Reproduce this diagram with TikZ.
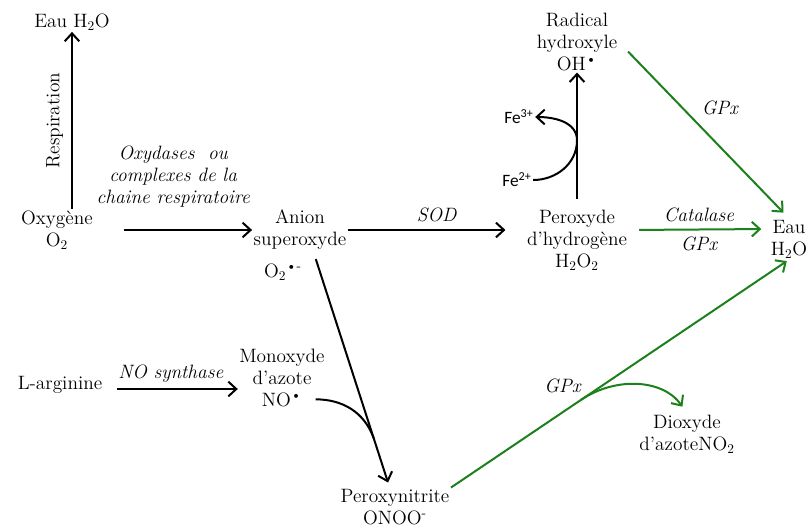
\documentclass[tikz,border=0pt]{standalone}
\usepackage{fontspec}
\newfontfamily\fesans{Carlito}
\usepackage{tikz}
\usetikzlibrary{arrows.meta,calc}
\definecolor{gpxgreen}{RGB}{28,128,28}

\tikzset{
  mol/.style={align=center,inner sep=1pt,font=\fontsize{14.5}{16.5}\selectfont},
  enz/.style={align=center,inner sep=2pt,font=\fontsize{14.5}{16.5}\selectfont\itshape},
  fe/.style={inner sep=1pt,font=\fesans\fontsize{13}{14}\selectfont},
  reac/.style={-{Straight Barb[length=6pt,width=11pt,line width=1.5pt]},line width=1.5pt},
  gpx/.style={reac,draw=gpxgreen},
}
\newcommand{\rad}{\textsuperscript{•}}

\begin{document}
\begin{tikzpicture}[x=0.75pt,y=-0.75pt]
\useasboundingbox (0,0) rectangle (809,528);

% Molecules
\node[mol] (eau1) at (72,22) {Eau H$_2$O};
\node[mol] (oxy) at (57,230) {Oxygène\\O$_2$};
\node[mol] (anion) at (300,230) {Anion\\superoxyde};
\node[mol] (o2rad) at (283,272) {O$_2$\textsuperscript{•-}};
\node[mol] (h2o2) at (577,240) {Peroxyde\\d’hydrogène\\H$_2$O$_2$};
\node[mol] (ohrad) at (577,42) {Radical\\hydroxyle\\OH\rad};
\node[mol] (eau2) at (789,239) {Eau\\H$_2$O};
\node[mol] (larg) at (60,385) {L-arginine};
\node[mol] (nomono) at (282,378) {Monoxyde\\d’azote\\NO\rad};
\node[mol] (onoo) at (395,507) {Peroxynitrite\\ONOO\textsuperscript{-}};
\node[mol] (no2) at (687,434) {Dioxyde\\d’azoteNO$_2$};

% Fenton
\node[fe] (fe3) at (519,117) {Fe\textsuperscript{3+}};
\node[fe] (fe2) at (517,180) {Fe\textsuperscript{2+}};

% Black reactions
\draw[reac] (eau1.south |- oxy.north) -- (eau1.south)
  node[midway,above=5pt,sloped,mol] {Respiration};
\draw[reac,shorten <=22pt] (oxy) -- (anion)
  node[midway,above=14pt,enz] {Oxydases\ \ ou\\complexes de la\\chaine respiratoire};
\draw[reac,shorten >=15pt] (anion.east) -- (anion.east -| h2o2.west)
  node[midway,above=3pt,enz] {SOD};
\draw[reac,shorten <=7pt] (h2o2.north) -- (ohrad.south);
\coordinate (fetouch) at ($(h2o2.north)!0.5!(ohrad.south)$);
\draw[reac] (fe2.east) to[out=0,in=-90] (fetouch) to[out=90,in=0] (fe3.east);
\draw[reac,shorten <=6pt,shorten >=4pt] ([xshift=10pt]anion.south) -- ([xshift=-4pt]onoo.north)
  coordinate[pos=0.79] (nojoin);
\draw[reac,shorten <=10pt] (larg.east |- 0,389) -- (nomono.west |- 0,389)
  node[midway,above=2pt,enz] {NO synthase};
\draw[line width=1.5pt] ([yshift=-16pt,xshift=-8pt]nomono.east) to[out=0,in=110] (nojoin);

% Green reactions
\draw[gpx,shorten <=10pt,shorten >=6pt] (ohrad.east) -- (eau2.north)
  node[pos=0.45,above right=2pt,enz] {GPx};
\draw[gpx,shorten <=8pt,shorten >=6pt] ([yshift=7.5pt]h2o2.east) -- ([yshift=7.5pt]eau2.west)
  node[midway,above=3pt,enz] {Catalase}
  node[midway,below=3pt,enz] {GPx};
\draw[gpx,shorten >=2pt] (onoo.north east) -- (eau2.south)
  coordinate[pos=0.385] (gpxjoin)
  node[pos=0.33,above=12pt,enz] {GPx};
\draw[gpx,shorten >=6pt] (gpxjoin) to[out=34,in=125] (no2.north);
\end{tikzpicture}
\end{document}
